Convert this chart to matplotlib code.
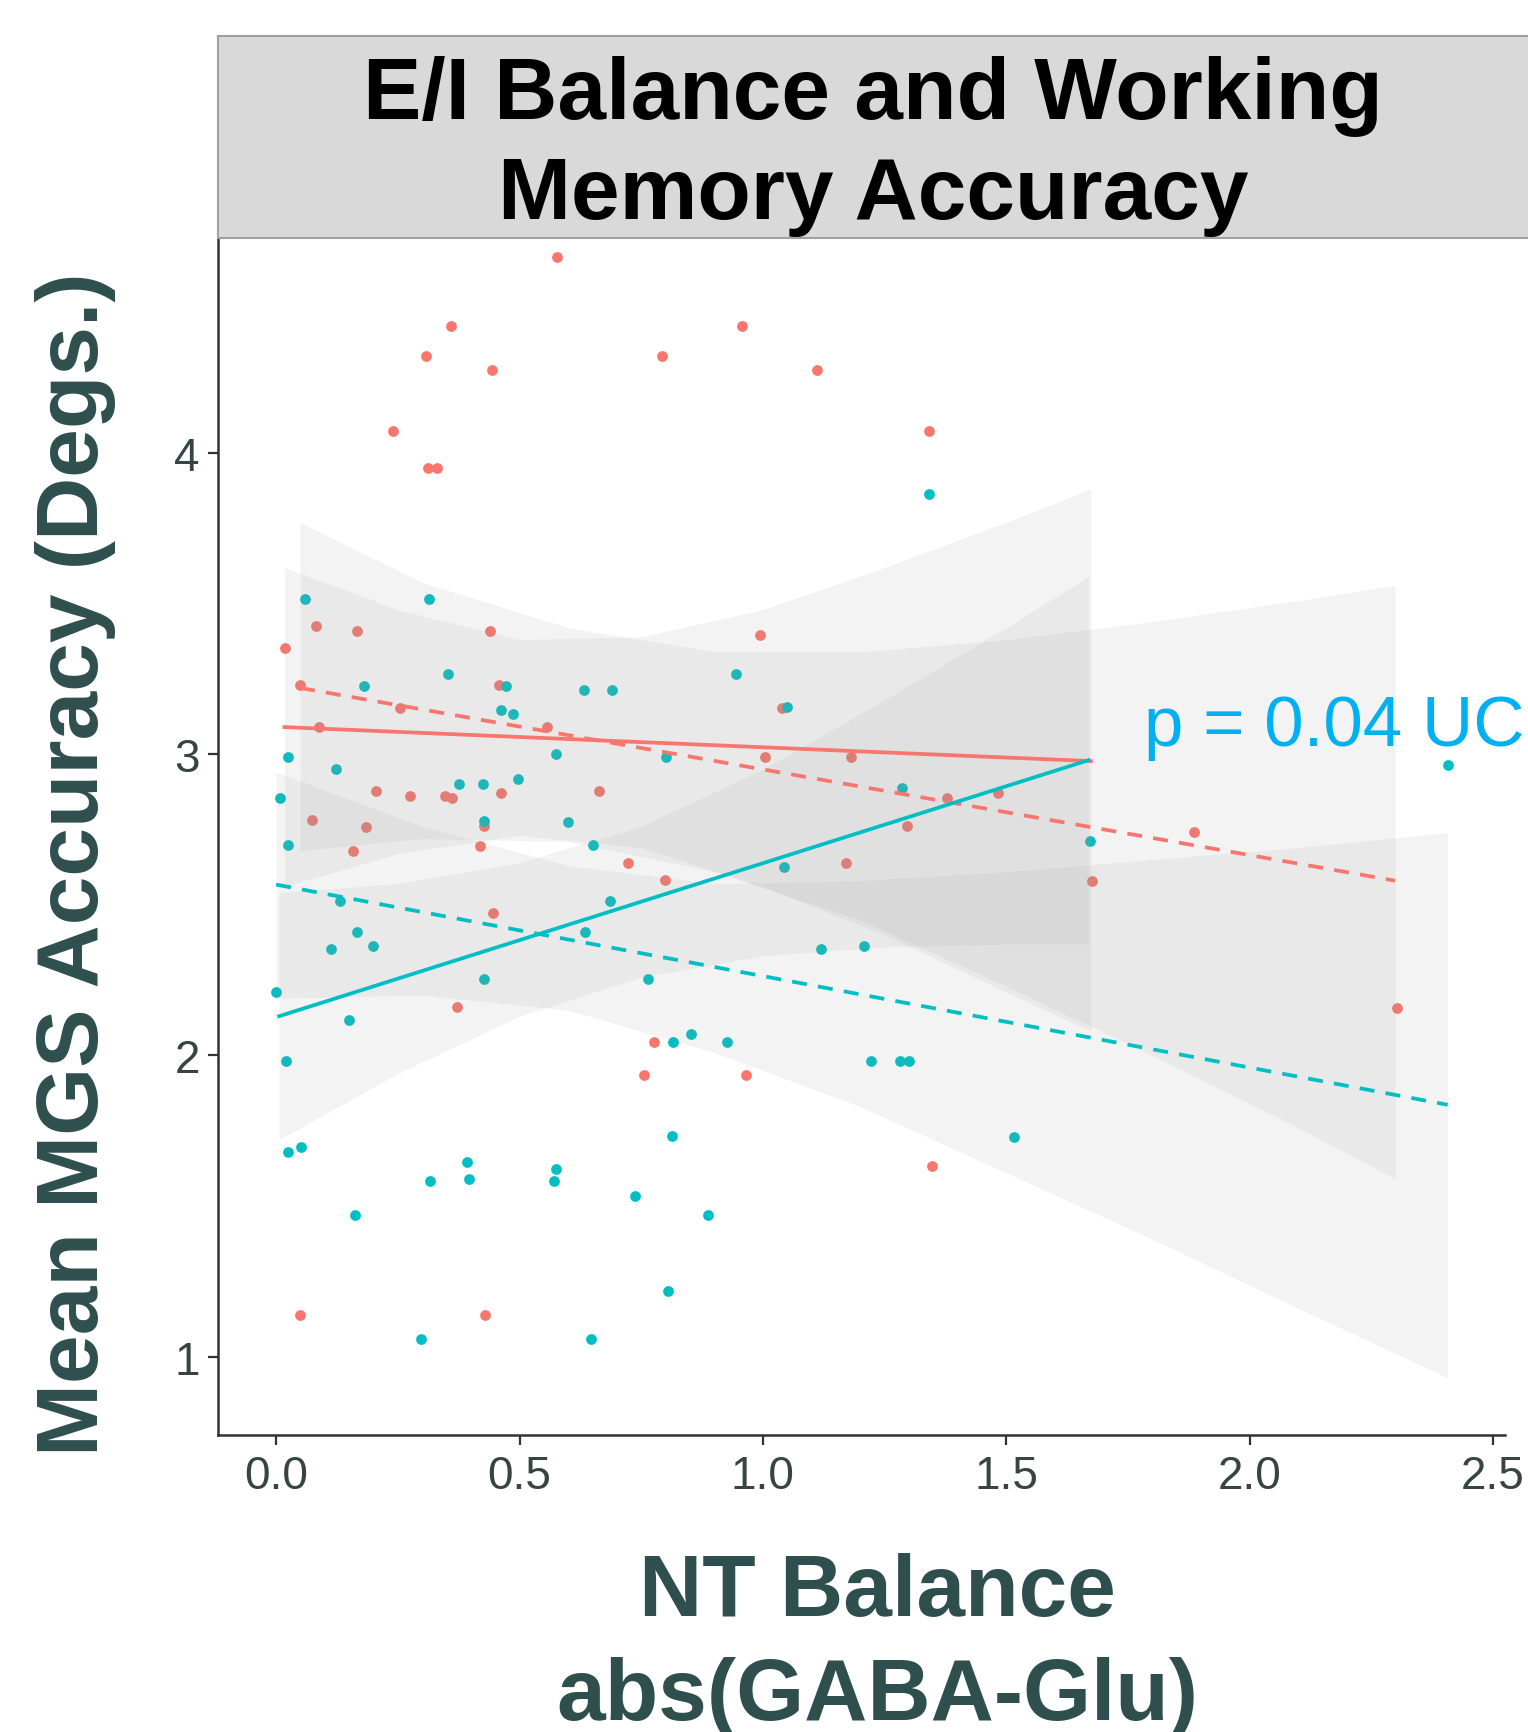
import matplotlib
matplotlib.use("Agg")
import matplotlib.pyplot as plt

plt.rcParams['font.family'] = ['Liberation Sans', 'DejaVu Sans']

# points
red_x = [0.578, 0.359, 0.958, 0.308, 0.792, 0.443, 1.111, 0.241, 1.342, 0.312,
         0.330, 0.018, 0.081, 0.166, 0.440, 0.994, 0.049, 0.457, 0.557, 0.088,
         0.254, 1.040, 1.004, 1.182, 0.205, 0.276, 0.346, 0.361, 0.663, 0.428,
         1.379, 1.484, 0.074, 0.184, 0.158, 0.419, 0.723, 1.171, 0.799, 1.676,
         1.886, 0.446, 0.372, 2.302, 0.777, 0.755, 0.966, 1.348, 0.048, 0.429,
         0.461, 1.297]
red_y = [4.651, 4.423, 4.423, 4.321, 4.321, 4.275, 4.275, 4.074, 4.074, 3.950,
         3.950, 3.351, 3.425, 3.409, 3.409, 3.396, 3.231, 3.231, 3.089, 3.089,
         3.152, 3.152, 2.991, 2.991, 2.878, 2.861, 2.861, 2.854, 2.878, 2.763,
         2.854, 2.871, 2.780, 2.758, 2.678, 2.695, 2.638, 2.638, 2.581, 2.580,
         2.741, 2.473, 2.159, 2.157, 2.044, 1.936, 1.936, 1.634, 1.137, 1.137,
         2.871, 2.763]

teal_x = [0.060, 0.315, 0.354, 0.181, 0.473, 0.632, 0.691, 0.944, 1.049, 0.461,
          0.486, 0.025, 0.575, 0.802, 0.124, 0.007, 0.376, 0.426, 0.496, 0.025,
          0.428, 0.600, 0.652, 1.043, 0.131, 0.685, 0.166, 0.113, 0.198, 0.635,
          1.119, 1.207, 0.000, 0.428, 0.763, 0.149, 0.021, 0.816, 0.852, 0.927,
          1.222, 1.281, 1.300, 0.813, 1.517, 1.342, 1.286, 1.673, 2.408, 0.024,
          0.051, 0.393, 0.316, 0.396, 0.574, 0.571, 0.163, 0.737, 0.888, 0.806,
          0.297, 0.647]
teal_y = [3.516, 3.516, 3.265, 3.226, 3.226, 3.214, 3.214, 3.265, 3.157, 3.146,
          3.133, 2.991, 3.002, 2.991, 2.952, 2.854, 2.900, 2.900, 2.917, 2.700,
          2.777, 2.775, 2.700, 2.625, 2.513, 2.513, 2.410, 2.353, 2.364, 2.410,
          2.353, 2.364, 2.210, 2.255, 2.255, 2.118, 1.981, 2.044, 2.072, 2.044,
          1.981, 1.981, 1.981, 1.733, 1.730, 3.864, 2.889, 2.711, 2.963, 1.680,
          1.696, 1.645, 1.583, 1.588, 1.623, 1.583, 1.469, 1.532, 1.469, 1.218,
          1.059, 1.059]

# fitted lines (end points) and their confidence bands
red_solid_x = [0.017, 1.674]
red_solid_y = [3.09, 2.977]
red_dash_x = [0.049, 2.299]
red_dash_y = [3.22, 2.58]
teal_solid_x = [0.006, 1.669]
teal_solid_y = [2.13, 2.98]
teal_dash_x = [0.0, 2.407]
teal_dash_y = [2.567, 1.836]

red_solid_band_x = [0.017, 0.25, 0.5, 0.75, 1.0, 1.25, 1.5, 1.674]
red_solid_lo = [2.56, 2.67, 2.73, 2.69, 2.56, 2.40, 2.21, 2.08]
red_solid_hi = [3.62, 3.48, 3.38, 3.39, 3.48, 3.62, 3.77, 3.88]

red_dash_band_x = [0.049, 0.3, 0.6, 0.9, 1.2, 1.5, 1.8, 2.1, 2.299]
red_dash_lo = [2.68, 2.72, 2.71, 2.61, 2.45, 2.23, 2.00, 1.76, 1.59]
red_dash_hi = [3.77, 3.57, 3.42, 3.34, 3.34, 3.38, 3.44, 3.51, 3.56]

teal_solid_band_x = [0.006, 0.25, 0.5, 0.75, 1.0, 1.25, 1.5, 1.669]
teal_solid_lo = [1.72, 1.94, 2.13, 2.26, 2.33, 2.36, 2.37, 2.37]
teal_solid_hi = [2.54, 2.57, 2.64, 2.76, 2.95, 3.18, 3.42, 3.59]

teal_dash_band_x = [0.0, 0.3, 0.6, 0.9, 1.2, 1.5, 1.8, 2.1, 2.407]
teal_dash_lo = [2.19, 2.20, 2.15, 2.01, 1.83, 1.61, 1.39, 1.16, 0.93]
teal_dash_hi = [2.94, 2.76, 2.63, 2.57, 2.58, 2.61, 2.65, 2.69, 2.74]

xticks = [0.0, 0.5, 1.0, 1.5, 2.0, 2.5]
yticks = [1, 2, 3, 4]

RED = "#F8766D"
TEAL = "#00BFC4"
SLATE = "#2F4F4F"

fig = plt.figure(figsize=(15.28, 17.33), dpi=100)
ax = fig.add_axes([0.1425, 0.1711, 0.8422, 0.6912])

ax.scatter(red_x, red_y, s=60, color=RED, linewidths=0, zorder=2)
ax.scatter(teal_x, teal_y, s=60, color=TEAL, linewidths=0, zorder=2)

for bx, lo, hi in [(red_solid_band_x, red_solid_lo, red_solid_hi),
                   (red_dash_band_x, red_dash_lo, red_dash_hi),
                   (teal_solid_band_x, teal_solid_lo, teal_solid_hi),
                   (teal_dash_band_x, teal_dash_lo, teal_dash_hi)]:
    ax.fill_between(bx, lo, hi, color="#999999", alpha=0.11, linewidth=0, zorder=3)

dash = (0, (4, 3))
ax.plot(red_solid_x, red_solid_y, color=RED, lw=2.7, zorder=4)
ax.plot(red_dash_x, red_dash_y, color=RED, lw=2.7, ls=dash, zorder=4)
ax.plot(teal_solid_x, teal_solid_y, color=TEAL, lw=2.7, zorder=4)
ax.plot(teal_dash_x, teal_dash_y, color=TEAL, lw=2.7, ls=dash, zorder=4)

ax.text(1.784, 3.031, "p = 0.04 UC", color="#00B0F0", fontsize=51,
        ha="left", va="baseline", clip_on=False, zorder=5)

ax.set_xlim(-0.12, 2.524)
ax.set_ylim(0.738, 4.715)
ax.set_xticks(xticks)
ax.set_xticklabels(["%.1f" % v for v in xticks])
ax.set_yticks(yticks)
for side in ["top", "right"]:
    ax.spines[side].set_visible(False)
for side in ["left", "bottom"]:
    ax.spines[side].set_color("#333333")
    ax.spines[side].set_linewidth(1.8)
ax.tick_params(length=7, width=1.6, color="#333333", labelsize=33,
               labelcolor="#364444", pad=6)

# facet strip
strip = fig.add_axes([0.1425, 0.8623, 0.8575, 0.1166])
strip.set_facecolor("#D9D9D9")
strip.set_xticks([])
strip.set_yticks([])
for side in ["top", "left", "bottom"]:
    strip.spines[side].set_color("#A0A0A0")
    strip.spines[side].set_linewidth(1.5)
strip.spines["right"].set_visible(False)
strip.text(0.5, 0.455, "E/I Balance and Working\nMemory Accuracy", ha="center",
           va="center", fontsize=63, fontweight="bold", color="black",
           linespacing=1.3)

fig.text(0.0497, 0.5014, "Mean MGS Accuracy (Degs.)", rotation=90, ha="center",
         va="center", fontsize=63, fontweight="bold", color=SLATE)
fig.text(0.574, 0.0678, "NT Balance", ha="center", va="baseline",
         fontsize=63, fontweight="bold", color=SLATE)
fig.text(0.574, 0.0075, "abs(GABA-Glu)", ha="center", va="baseline",
         fontsize=63, fontweight="bold", color=SLATE)

fig.savefig("out.png", dpi=100)
